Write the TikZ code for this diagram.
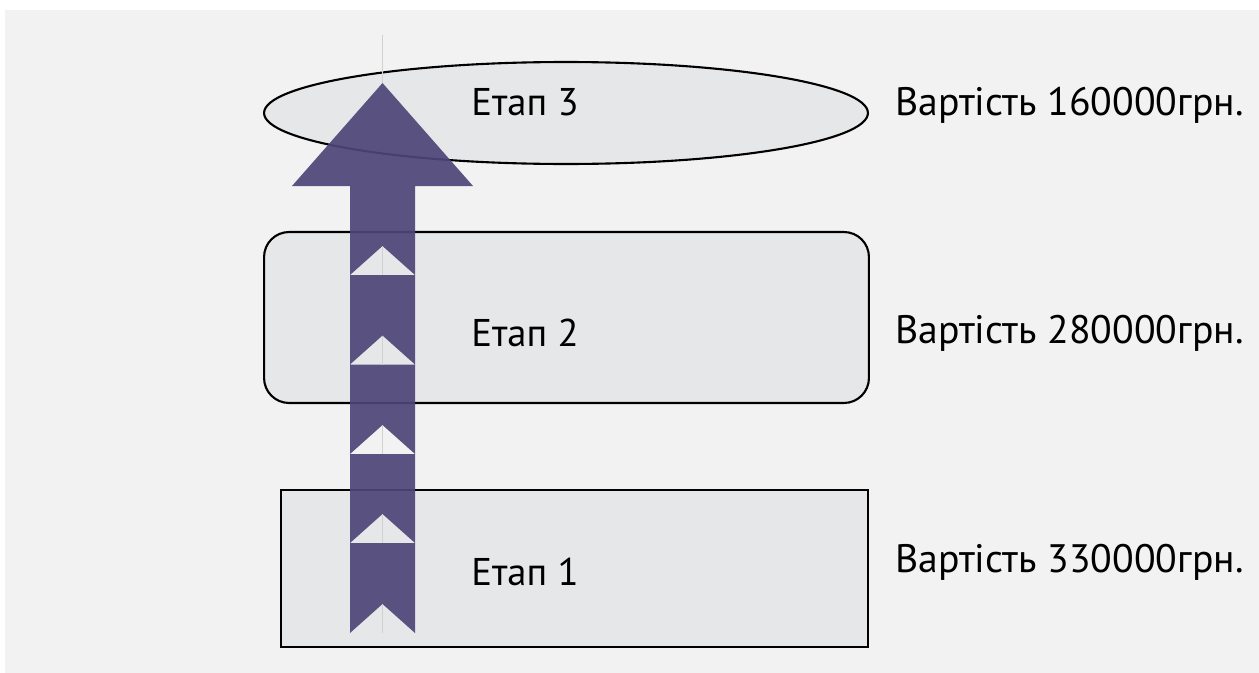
\documentclass[tikz,border=0pt]{standalone}
\usepackage{fontspec}
\setmainfont{PT Sans}
\usetikzlibrary{shapes,arrows,positioning}
\usetikzlibrary{shapes.geometric}

\definecolor{panel}{HTML}{F2F2F2}
\definecolor{boxfill}{HTML}{E6E7E8}
\definecolor{arrowcol}{HTML}{4E4578}

\begin{document}
\begin{tikzpicture}[x=0.02cm,y=-0.02cm]
		\tikzstyle{stage} = [draw,line width=1.2pt,fill=boxfill,inner sep=0pt]
		\tikzstyle{label} = [font=\fontsize{22}{26}\selectfont,inner sep=0pt]
		\tikzstyle{cost} = [label,anchor=west,font=\fontsize{22.6}{26}\selectfont]
		\tikzstyle{axis} = [black!18, line width=0.6pt]
		
		% Canvas
		\useasboundingbox [fill=white] (0,0) rectangle (1259,673);
		\fill [panel] (5,10) rectangle (1259,673);
		
		% Stages
		\node [stage, ellipse, minimum width=12.08cm, minimum height=2.04cm] (stage3) at (566,113) {};
		\node [stage, rounded corners=0.5cm, minimum width=12.1cm, minimum height=3.42cm] (stage2) at (566.5,317.5) {};
		\node [stage, minimum width=11.74cm, minimum height=3.14cm] (stage1) at (574.5,568.5) {};
		
		\node [label] (etap3) at (525,102) {Етап 3};
		\node [label] (etap2) at (525,333) {Етап 2};
		\node [label] (etap1) at (525,572) {Етап 1};
		
		% Costs
		\node [cost] (cost3) at (895,105) {Вартість 160000грн.};
		\node [cost] (cost2) at (895,333) {Вартість 280000грн.};
		\node [cost] (cost1) at (895,562) {Вартість 330000грн.};
		
		% Arrow
		\fill [arrowcol, opacity=0.92, even odd rule]
		  (350,633) -- (350,186) -- (292,186) -- (382.5,83) -- (473,186) -- (415,186) -- (415,633) -- (382.5,604) -- cycle
		  \foreach \b in {275,364.5,454,543} { (350,\b) -- (382.5,\b-29) -- (415,\b) -- cycle };
		% thin centre line, seen only outside the arrow
		\draw [axis] (382.5,35) -- (382.5,83);
		\draw [axis] (382.5,604) -- (382.5,633);
		\foreach \b in {275,364.5,454,543}
		  \draw [axis] (382.5,\b-29) -- (382.5,\b);
\end{tikzpicture}
\end{document}
